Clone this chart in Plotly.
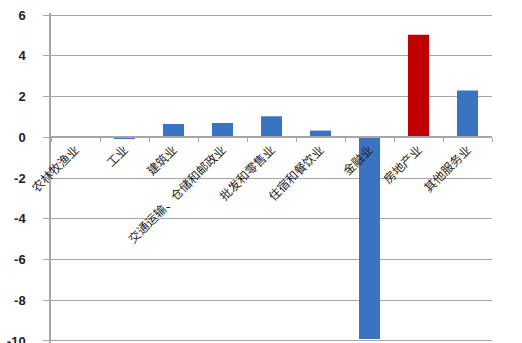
import plotly.graph_objects as go

categories = ["农林牧渔业", "工业", "建筑业", "交通运输、仓储和邮政业", "批发和零售业",
              "住宿和餐饮业", "金融业", "房地产业", "其他服务业"]
values = [0.0, -0.05, 0.65, 0.7, 1.03, 0.33, -9.9, 5.03, 2.29]
colors = ["#3a73c2"] * 9
colors[7] = "#c00000"
y_ticks = [-10, -8, -6, -4, -2, 0, 2, 4, 6]

fig = go.Figure(go.Bar(x=categories, y=values, marker=dict(color=colors, line=dict(width=0))))

fig.update_layout(
    width=522, height=343,
    margin=dict(l=51, r=30, t=13, b=0, autoexpand=False),
    paper_bgcolor="white", plot_bgcolor="white",
    bargap=0.57,
    showlegend=False,
    font=dict(family="Liberation Sans, Arial, sans-serif", color="#222"),
)
fig.update_yaxes(
    range=[-10.1, 6.1], tickvals=y_ticks, ticktext=[str(v) for v in y_ticks],
    showgrid=True, gridcolor="#a6a6a6", gridwidth=1.3,
    showline=True, linecolor="#a6a6a6", linewidth=1.5,
    ticks="outside", ticklen=6, tickcolor="#a6a6a6",
    zeroline=False, ticklabeloverflow="allow", automargin=False,
    tickfont=dict(size=13, family="Liberation Sans, Arial, sans-serif", color="#222", weight="bold"),
    ticklabelstandoff=15,
)
fig.update_xaxes(
    type="category", anchor="free", position=10.1 / 16.2, automargin=False,
    showline=True, linecolor="#a6a6a6", linewidth=1.5,
    ticks="outside", ticklen=4, tickcolor="#a6a6a6", tickson="boundaries",
    tickangle=-45, showgrid=False,
    tickfont=dict(size=12, family="Noto Sans CJK SC", color="#222"),
)

fig.write_html("out.html")
